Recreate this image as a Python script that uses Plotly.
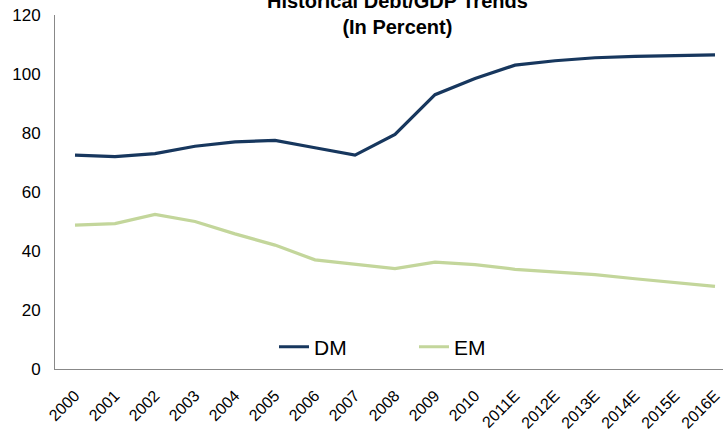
import plotly.graph_objects as go

years = ["2000", "2001", "2002", "2003", "2004", "2005", "2006", "2007", "2008",
         "2009", "2010", "2011E", "2012E", "2013E", "2014E", "2015E", "2016E"]
dm = [72.5, 72.0, 73.0, 75.5, 77.0, 77.5, 75.0, 72.5, 79.5, 93.0, 98.5,
      103.0, 104.5, 105.5, 106.0, 106.2, 106.5]
em = [48.8, 49.3, 52.4, 50.0, 45.8, 42.0, 37.0, 35.5, 34.0, 36.2, 35.4,
      33.8, 32.8, 32.0, 30.6, 29.3, 28.0]

FONT = "Arial, Liberation Sans, sans-serif"

fig = go.Figure()
fig.add_trace(go.Scatter(x=list(range(len(years))), y=dm, name="DM", mode="lines",
                         line=dict(color="#17375E", width=3.2)))
fig.add_trace(go.Scatter(x=list(range(len(years))), y=em, name="EM", mode="lines",
                         line=dict(color="#C3D69B", width=3.2)))

fig.update_layout(
    width=728, height=434,
    margin=dict(l=55, r=5, t=15, b=65),
    paper_bgcolor="white", plot_bgcolor="white",
    font=dict(family=FONT, color="black"),
    showlegend=True,
    legend=dict(orientation="h", x=219 / 668, xanchor="left", y=0.004, yanchor="bottom",
                font=dict(size=21, family=FONT), itemwidth=30, bgcolor="rgba(0,0,0,0)",
                traceorder="normal", entrywidth=95),
    annotations=[dict(text="<b>Historical Debt/GDP Trends<br>(In Percent)</b>",
                      xref="paper", yref="paper", x=(397 - 55) / 668, y=(369 - 14) / 354,
                      xanchor="center", yanchor="middle", showarrow=False,
                      font=dict(size=20, family=FONT, color="black"))],
)
fig.update_xaxes(
    tickmode="array", tickvals=list(range(len(years))), ticktext=years,
    range=[-0.5, 16.2], tickangle=-45, tickfont=dict(size=16, family=FONT),
    showline=True, linecolor="#888888", linewidth=1, showgrid=False, ticks="",
    zeroline=False, automargin=False, ticklabelstandoff=10,
)
fig.update_yaxes(
    range=[0, 120], tickvals=[0, 20, 40, 60, 80, 100, 120],
    tickfont=dict(size=17, family=FONT), showline=True, linecolor="#888888",
    linewidth=1, showgrid=False, ticks="", zeroline=False, ticklabelstandoff=10,
    automargin=False,
)

fig.write_html("out.html", post_script="document.body.style.margin='0';",
               config={"displayModeBar": False})
